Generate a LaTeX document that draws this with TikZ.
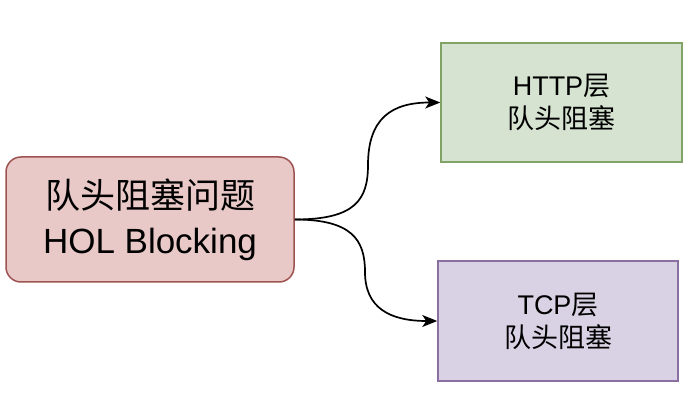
\documentclass[tikz,border=0pt]{standalone}
\usepackage{fontspec}
\setmainfont{Liberation Sans}
\newfontfamily\cjk{Noto Sans CJK SC}
\usetikzlibrary{arrows.meta}

\definecolor{holfill}{RGB}{232,201,199}
\definecolor{holline}{RGB}{158,83,80}
\definecolor{httpfill}{RGB}{213,227,208}
\definecolor{httpline}{RGB}{130,163,102}
\definecolor{tcpfill}{RGB}{217,210,228}
\definecolor{tcpline}{RGB}{138,111,160}

\tikzset{
  blockbox/.style={draw, line width=1.5pt, align=center, inner sep=0pt},
  bigtext/.style={font=\fontsize{35}{45}\selectfont},
  smalltext/.style={font=\fontsize{27}{33}\selectfont},
  curvearrow/.style={draw=black, line width=1.7pt, -{Stealth[length=15pt, width=12pt, inset=4pt]}}
}

\begin{document}
\begin{tikzpicture}[x=1pt, y=-1pt]
\useasboundingbox (0,0) rectangle (688,403);
% left block
\node[blockbox, bigtext, fill=holfill, draw=holline, rounded corners=15pt,
  minimum width=288pt, minimum height=125pt] (holb) at (150,219.5)
  {\raisebox{-5pt}{\cjk 队头阻塞问题}\\\raisebox{-5pt}{HOL Blocking}};
% right blocks
\node[blockbox, smalltext, fill=httpfill, draw=httpline,
  minimum width=241pt, minimum height=119pt] (http) at (561.5,102.5)
  {HTTP{\cjk 层}\\{\cjk 队头阻塞}};
\node[blockbox, smalltext, fill=tcpfill, draw=tcpline,
  minimum width=240pt, minimum height=120pt] (tcp) at (558,321)
  {TCP{\cjk 层}\\{\cjk 队头阻塞}};
% connectors
\draw[curvearrow] (holb.east) .. controls (355,219.5) and (368,200) .. (368,165)
  .. controls (368,118) and (392,102.5) .. (http.west);
\draw[curvearrow] (holb.east) .. controls (352,219.5) and (365,240) .. (365,272)
  .. controls (365,308) and (390,321) .. (tcp.west);
\end{tikzpicture}
\end{document}
